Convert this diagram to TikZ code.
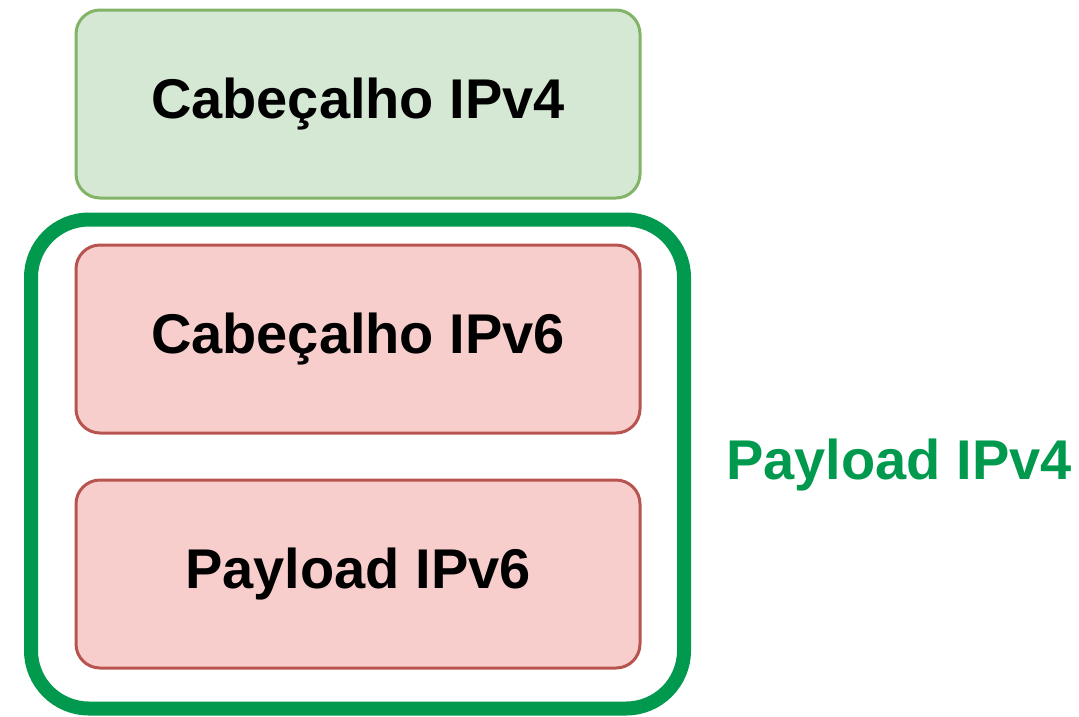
\documentclass[tikz,border=0pt]{standalone}
\usepackage{fontspec}
\setmainfont{Liberation Sans}
\definecolor{gfill}{HTML}{D5E8D4}
\definecolor{gline}{HTML}{82B366}
\definecolor{rfill}{HTML}{F8CECC}
\definecolor{rline}{HTML}{B85450}
\definecolor{dgreen}{HTML}{00994D}
\begin{document}
\begin{tikzpicture}[x=1pt,y=-1pt,
  box/.style={rounded corners=24pt, line width=3pt, minimum width=564pt, minimum height=188pt, inner sep=0pt,
    font=\fontsize{56}{60}\selectfont\bfseries},
  greenbox/.style={box, fill=gfill, draw=gline},
  redbox/.style={box, fill=rfill, draw=rline},
  outerbox/.style={rounded corners=58pt, line width=14pt, draw=dgreen, minimum width=653pt, minimum height=489pt, inner sep=0pt},
  lab/.style={text=dgreen, font=\fontsize{56}{60}\selectfont\bfseries, inner sep=0pt}]
\useasboundingbox (0,0) rectangle (1079,716);
\node[outerbox] (outer) at (357.5,464) {};
\node[greenbox] (h4) at (358,104) {Cabeçalho IPv4};
\node[redbox] (h6) at (358,339) {Cabeçalho IPv6};
\node[redbox] (p6) at (358,574) {Payload IPv6};
\node[lab] (p4) at (899,465) {Payload IPv4};
\end{tikzpicture}
\end{document}
